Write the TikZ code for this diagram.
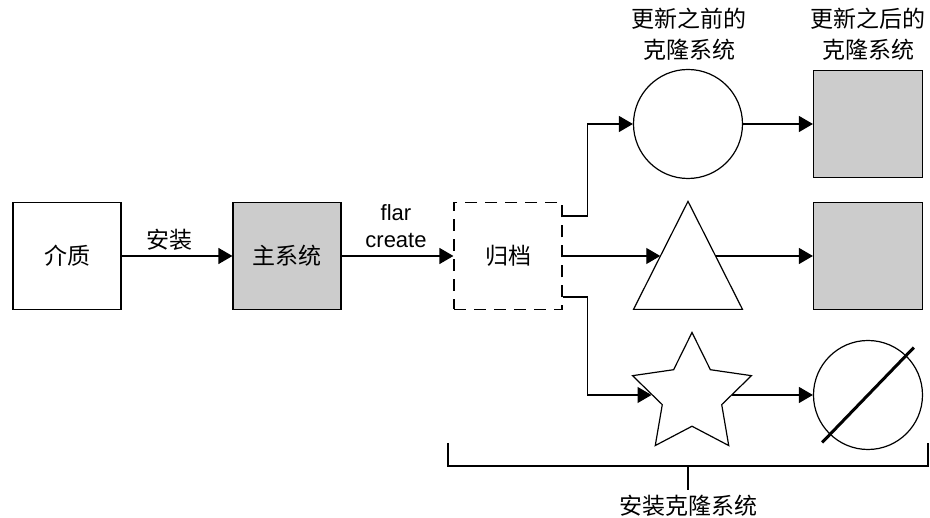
\documentclass[tikz,border=0pt]{standalone}
\usepackage{fontspec}
\setmainfont{Liberation Sans}
\newfontfamily\cjk{Noto Sans CJK SC}
\usepackage{tikz}
\usetikzlibrary{arrows.meta,shapes.geometric}
\definecolor{boxgray}{HTML}{CCCCCC}

\begin{document}
\begin{tikzpicture}[x=1pt,y=1pt,
  box/.style={draw,line width=1.2pt,minimum width=108pt,minimum height=107pt,inner sep=0pt,
    font=\cjk\fontsize{23}{26}\selectfont},
  arr/.style={line width=1.2pt,-{Triangle[length=14pt,width=16pt]}},
  lbl/.style={align=center,font=\cjk\fontsize{23}{30.5}\selectfont}]
\newcommand{\w}{109}
\useasboundingbox (0,0) rectangle (930,518);

% Draw the boxes of the first row
\node[box] (medium) at (67,262) {介质};
\node[box,fill=boxgray] (mainsys) at (287,262) {主系统};
\node[box,dash pattern=on 12pt off 8pt] (archive) at (508,262) {归档};

% Draw the clones before the update
\node[draw,circle,line width=1.2pt,minimum size=\w pt,inner sep=0pt] (before) at (688,394) {};
\node[draw,isosceles triangle,isosceles triangle stretches,shape border rotate=90,
  line width=1.2pt,minimum width=\w pt,minimum height=108pt,inner sep=0pt,anchor=south] (tri) at (688,208) {};
\node[draw,star,star points=5,star point ratio=2,line width=1.2pt,
  minimum size=125pt,inner sep=0pt] (star) at (692,123) {};

% Draw the clones after the update
\node[box,fill=boxgray,minimum width=\w pt] (after1) at (868,394) {};
\node[box,fill=boxgray,minimum width=\w pt] (after2) at (868,262) {};
\node[draw,circle,line width=1.2pt,minimum size=\w pt,inner sep=0pt] (nocl) at (868,123) {};
\draw[line width=3pt] ([shift={(226:66)}]nocl.center) -- ([shift={(46:66)}]nocl.center);

% Connect the boxes
\draw[arr] (medium) -- (mainsys);
\draw[arr] (mainsys) -- (archive);
\draw[arr] ([yshift=40]archive.east) -- ++(25,0) |- (before);
\draw[arr] (archive.east) -- (archive.east -| tri.left side);
\draw[arr] ([yshift=-41]archive.east) -- ++(25,0) |- (star);
\draw[arr] (before) -- (after1);
\draw[arr] (after2.west -| tri.right side) -- (after2.west);
\draw[arr] (star) -- (nocl);

% Add labels
\node[lbl] (installlbl) at (169,278) {安装};
\node[align=center,font=\fontsize{22}{27}\selectfont] (flarlbl) at (396,291.5) {flar\\create};
\node[lbl] (beforelbl) at (689,484) {更新之前的\\克隆系统};
\node[lbl] (afterlbl) at (868,484) {更新之后的\\克隆系统};

% Bracket under the clones
\node[lbl] (clonelbl) at (688,12) {安装克隆系统};
\draw[line width=1.2pt] (448,75) -- (448,52) -- (928,52) -- (928,75);
\draw[line width=1.2pt] (688,52) -- (688,28);

\end{tikzpicture}
\end{document}
